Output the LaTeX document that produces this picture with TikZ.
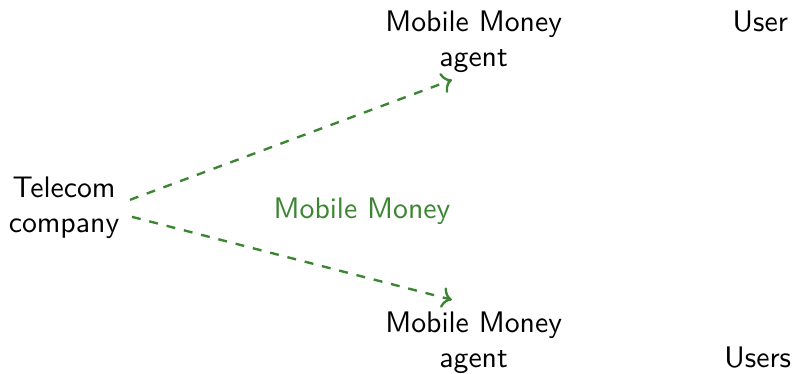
\documentclass[tikz,border=0pt]{standalone}
\usepackage{tikz}
\usetikzlibrary{arrows.meta, positioning, calc}
\definecolor{mmGreen}{HTML}{3C8532}
\tikzset{
  mmnode/.style={font=\sffamily, align=center, text=black},
  mmflow/.style={->, thick, dashed, color=mmGreen},
}
\begin{document}
\begin{tikzpicture}
  \useasboundingbox (0,0) rectangle (9.4,4.42);
  \node[mmnode](telco) at (0.757,1.963){Telecom\\company};
  \node[mmnode](agentA) at (5.60,3.925){Mobile Money\\agent};
  \node[mmnode](agentB) at (5.60,0.367){Mobile Money\\agent};
  \node[mmnode](user) at (8.99,4.16){User};
  \node[mmnode](users) at (8.96,0.19){Users};
  \node[mmnode, text=mmGreen](mm) at (4.28,1.92){Mobile Money};
  % money flows to the agents
  \draw[mmflow]($(telco.center)+(0.78,0.094)$)--($(agentA.center)+(-0.256,-0.449)$);
  \draw[mmflow]($(telco.center)+(0.804,-0.107)$)--($(agentB.center)+(-0.256,0.508)$);
\end{tikzpicture}
\end{document}
